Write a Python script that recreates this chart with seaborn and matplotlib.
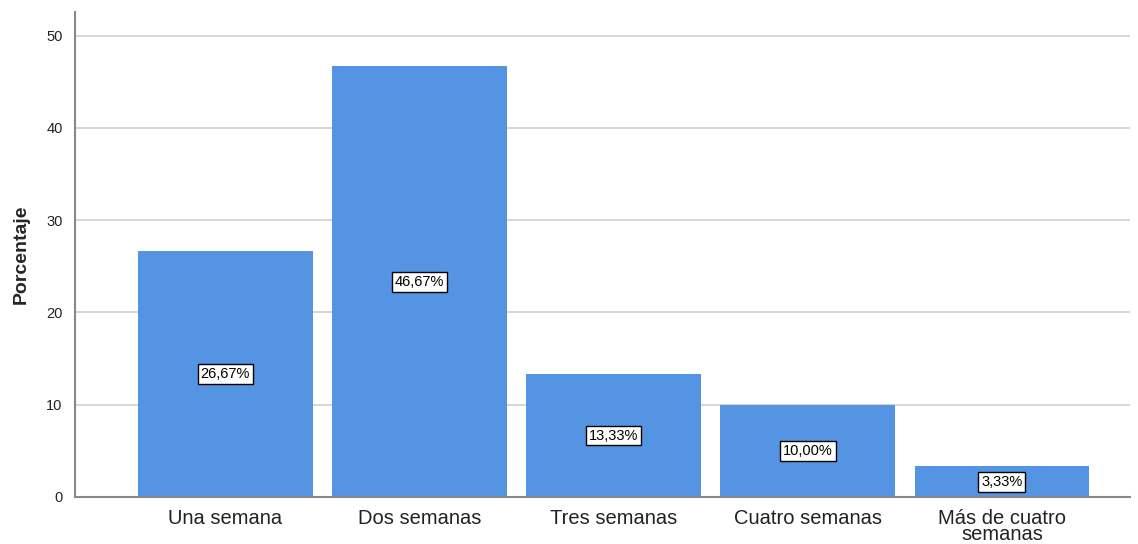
import pandas as pd
import numpy as np
import matplotlib
matplotlib.use("Agg")
import matplotlib.pyplot as plt
import seaborn as sns

categorias = ["Una semana", "Dos semanas", "Tres semanas", "Cuatro semanas", "Más de cuatro\nsemanas"]
porcentajes = [26.67, 46.67, 13.33, 10.00, 3.33]
yticks = [0, 10, 20, 30, 40, 50]

df = pd.DataFrame({"cat": categorias, "pct": porcentajes})

sns.set_theme(style="white")
plt.rcParams["font.family"] = ["Liberation Sans", "DejaVu Sans"]

fig = plt.figure(figsize=(11.38, 5.44), dpi=100)
ax = fig.add_axes([0.066, 0.0864, 0.927, 0.892])

sns.barplot(df, x="cat", y="pct", color="#5594E2", saturation=1, width=0.9,
            edgecolor="none", ax=ax, zorder=2)

# etiquetas de porcentaje en el centro de cada barra
for i, v in enumerate(porcentajes):
    ax.text(i, v / 2, f"{v:.2f}%".replace(".", ","), ha="center", va="center",
            fontsize=10.5, color="black", zorder=3,
            bbox=dict(boxstyle="square,pad=0.2", fc="white", ec="black", lw=1))

ax.set_ylim(0, 52.6)
ax.set_xlim(-0.773, 4.66)
ax.set_yticks(yticks)
ax.yaxis.grid(True, color="#d0d0d0", lw=1.2, zorder=0)
ax.set_xlabel("")
ax.set_ylabel("Porcentaje", fontsize=14, fontweight="bold", labelpad=12)
ax.tick_params(axis="y", labelsize=10.5, length=0, pad=9, colors="#222222")
ax.tick_params(axis="x", labelsize=14.5, length=0, pad=9, colors="#222222")
for lbl in ax.get_xticklabels():
    lbl.set_linespacing(0.8)

sns.despine(ax=ax, top=True, right=True)
for s in ["left", "bottom"]:
    ax.spines[s].set_color("#888888")
    ax.spines[s].set_linewidth(1.5)

fig.savefig("out.png", dpi=100)
